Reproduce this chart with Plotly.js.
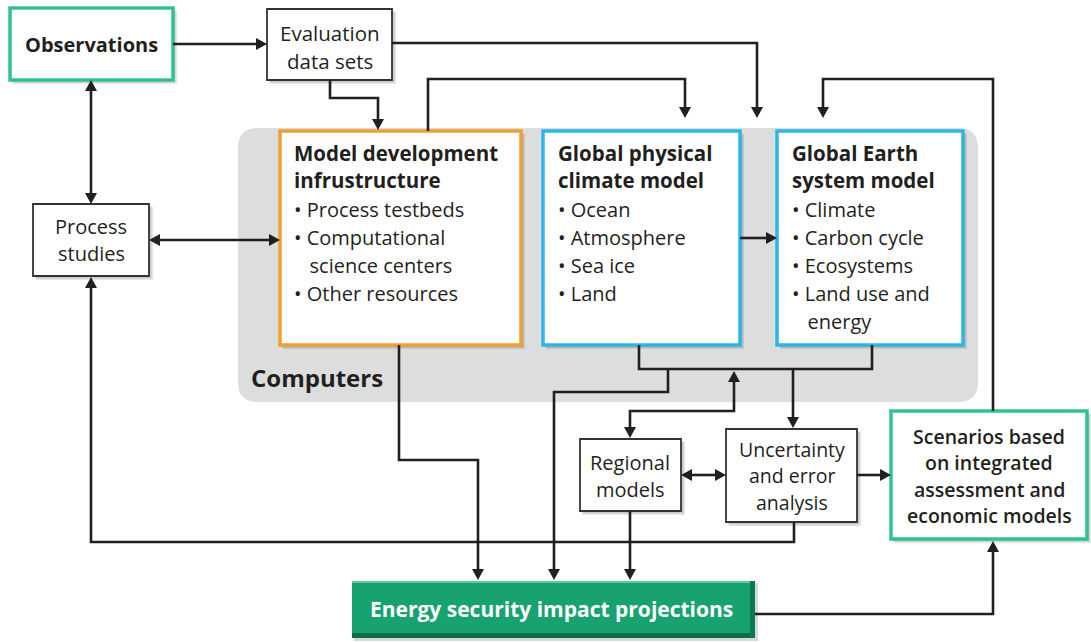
<!DOCTYPE html>
<html>
<head>
<meta charset="utf-8">
<script src="https://cdn.plot.ly/plotly-3.0.1.min.js"></script>
<style>
  html, body { margin: 0; padding: 0; background: #ffffff; }
  #chart { width: 1091px; height: 642px; }
</style>
</head>
<body>
<div id="chart"></div>
<script>
// ---------- Diagram content (text) ----------
const observationsLabel = ['Observations'];
const evaluationLabel = ['Evaluation', 'data sets'];
const processLabel = ['Process', 'studies'];
const modelDevTitle = ['Model development', 'infrustructure'];
const modelDevItems = ['• Process testbeds', '• Computational', '   science centers', '• Other resources'];
const physicalTitle = ['Global physical', 'climate model'];
const physicalItems = ['• Ocean', '• Atmosphere', '• Sea ice', '• Land'];
const earthTitle = ['Global Earth', 'system model'];
const earthItems = ['• Climate', '• Carbon cycle', '• Ecosystems', '• Land use and', '   energy'];
const computersLabel = ['Computers'];
const regionalLabel = ['Regional', 'models'];
const uncertaintyLabel = ['Uncertainty', 'and error', 'analysis'];
const scenariosLabel = ['Scenarios based', 'on integrated', 'assessment and', 'economic models'];
const energyLabel = ['Energy security impact projections'];

// ---------- Geometry / style (pixel space, y downward) ----------
const INK = '#231f20';
const GREEN = '#30c28e';
const ORANGE = '#f0a033';
const BLUE = '#2bb6e6';
const FONT = 'Open Sans, Noto Sans, sans-serif';

const boxes = {
  obs:   {x0: 10,  x1: 173, y0: 8,   y1: 80,  border: GREEN,  w: 3.5},
  eval:  {x0: 267, x1: 392, y0: 9,   y1: 80,  border: '#333', w: 1.8},
  proc:  {x0: 33,  x1: 149, y0: 204, y1: 276, border: '#333', w: 1.8},
  dev:   {x0: 280, x1: 521, y0: 131, y1: 345, border: ORANGE, w: 3.5},
  phys:  {x0: 543, x1: 740, y0: 131, y1: 345, border: BLUE,   w: 3.5},
  earth: {x0: 777, x1: 963, y0: 131, y1: 345, border: BLUE,   w: 3.5},
  reg:   {x0: 580, x1: 681, y0: 439, y1: 511, border: '#333', w: 1.8},
  unc:   {x0: 726, x1: 857, y0: 429, y1: 522, border: '#333', w: 1.8},
  scen:  {x0: 891, x1: 1087, y0: 411, y1: 539, border: GREEN, w: 3.5}
};
const energyBox = {x0: 352, x1: 755, y0: 581, y1: 638};
const grayBox = {x0: 238, x1: 978, y0: 128, y1: 402, r: 20};

// connectors: list of points, arrow at start / end
const connectors = [
  {pts: [[173,44],[267,44]], end: true},
  {pts: [[392,43],[757,43],[757,118]], end: true},
  {pts: [[330,80],[330,98],[378,98],[378,130]], end: true},
  {pts: [[428,131],[428,79],[685,79],[685,118]], end: true},
  {pts: [[993,411],[993,79],[823,79],[823,118]], end: true},
  {pts: [[91,80],[91,204]], start: true, end: true},
  {pts: [[149,240],[280,240]], start: true, end: true},
  {pts: [[740,238],[777,238]], end: true},
  {pts: [[639,345],[639,369],[872,369],[872,345]]},
  {pts: [[668,369],[668,392],[554,392],[554,580]], end: true},
  {pts: [[793,369],[793,428]], end: true},
  {pts: [[630,438],[630,411],[734,411],[734,371]], start: true, end: true},
  {pts: [[681,475],[726,475]], start: true, end: true},
  {pts: [[857,475],[891,475]], end: true},
  {pts: [[630,511],[630,580]], end: true},
  {pts: [[794,522],[794,542],[91,542],[91,277]], end: true},
  {pts: [[399,345],[399,460],[478,460],[478,580]], end: true},
  {pts: [[755,614],[993,614],[993,541]], end: true}
];

// ---------- Build shapes ----------
const shapes = [];
function rect(x0, x1, y0, y1, fill, lineColor, lineWidth) {
  shapes.push({type: 'rect', xref: 'x', yref: 'y', x0, x1, y0, y1,
    fillcolor: fill, line: {color: lineColor || 'rgba(0,0,0,0)', width: lineWidth || 0}});
}
// gray "Computers" panel with rounded corners
(function () {
  const g = grayBox, r = g.r;
  const p = `M${g.x0 + r},${g.y0} L${g.x1 - r},${g.y0} Q${g.x1},${g.y0} ${g.x1},${g.y0 + r} ` +
    `L${g.x1},${g.y1 - r} Q${g.x1},${g.y1} ${g.x1 - r},${g.y1} L${g.x0 + r},${g.y1} ` +
    `Q${g.x0},${g.y1} ${g.x0},${g.y1 - r} L${g.x0},${g.y0 + r} Q${g.x0},${g.y0} ${g.x0 + r},${g.y0} Z`;
  shapes.push({type: 'path', xref: 'x', yref: 'y', path: p, fillcolor: '#dcdddd', line: {width: 0}});
})();
// soft shadows
Object.values(boxes).forEach(b => {
  rect(b.x0 + 3, b.x1 + 4, b.y0 + 3, b.y1 + 4, 'rgba(0,0,0,0.10)');
  rect(b.x0 + 2, b.x1 + 2.5, b.y0 + 2, b.y1 + 2.5, 'rgba(0,0,0,0.12)');
});
rect(energyBox.x0 + 2, energyBox.x1 + 3, energyBox.y0 + 2, energyBox.y1 + 3, 'rgba(0,0,0,0.15)');
// boxes
Object.values(boxes).forEach(b => rect(b.x0, b.x1, b.y0, b.y1, '#ffffff', b.border, b.w));
// energy box (green with darker bevel)
rect(energyBox.x0, energyBox.x1, energyBox.y0, energyBox.y1, '#17a26f');
rect(energyBox.x0, energyBox.x1, energyBox.y1 - 5, energyBox.y1, '#0b6f48');
rect(energyBox.x1 - 5, energyBox.x1, energyBox.y0, energyBox.y1, '#0c7a50');
rect(energyBox.x0, energyBox.x1 - 5, energyBox.y0, energyBox.y0 + 2, '#5fc79d');

// connectors and arrowheads
const AL = 11, AW = 6;
function headAndTrim(tip, from) {
  const dx = tip[0] - from[0], dy = tip[1] - from[1];
  const L = Math.hypot(dx, dy), ux = dx / L, uy = dy / L;
  const bx = tip[0] - ux * AL, by = tip[1] - uy * AL;
  const p1 = [bx - uy * AW, by + ux * AW], p2 = [bx + uy * AW, by - ux * AW];
  shapes.push({type: 'path', xref: 'x', yref: 'y',
    path: `M${tip[0]},${tip[1]} L${p1[0]},${p1[1]} L${p2[0]},${p2[1]} Z`,
    fillcolor: INK, line: {width: 0}});
  return [bx + ux * 1, by + uy * 1];
}
connectors.forEach(c => {
  const pts = c.pts.map(p => p.slice());
  if (c.end) pts[pts.length - 1] = headAndTrim(pts[pts.length - 1], pts[pts.length - 2]);
  if (c.start) pts[0] = headAndTrim(pts[0], pts[1]);
  const path = pts.map((p, i) => (i ? 'L' : 'M') + p[0] + ',' + p[1]).join(' ');
  shapes.push({type: 'path', xref: 'x', yref: 'y', path, line: {color: INK, width: 2.6}});
});

// ---------- Text ----------
const annotations = [];
function txt(t, x, y, opts) {
  opts = opts || {};
  annotations.push({
    text: opts.bold ? '<b>' + t + '</b>' : t,
    x, y, xref: 'x', yref: 'y', showarrow: false,
    xanchor: opts.anchor || 'center', yanchor: 'middle',
    font: Object.assign({family: FONT, size: opts.size || 20, color: opts.color || INK},
      opts.weight ? {weight: opts.weight} : {})
  });
}
function stack(lines, x, yStart, step, opts) {
  lines.forEach((l, i) => txt(l, x, yStart + i * step, opts));
}

stack(observationsLabel, 91, 44, 0, {bold: true, size: 20});
stack(evaluationLabel, 330, 33, 28, {size: 20.5});
stack(processLabel, 91, 226, 27, {size: 20});
stack(modelDevTitle, 292, 153, 27, {bold: true, size: 20.5, anchor: 'left'});
stack(modelDevItems, 292, 209, 28, {size: 20, anchor: 'left'});
stack(physicalTitle, 556, 153, 27, {bold: true, size: 20.5, anchor: 'left'});
stack(physicalItems, 556, 209, 28.3, {size: 20, anchor: 'left'});
stack(earthTitle, 790, 153, 27, {bold: true, size: 20.5, anchor: 'left'});
stack(earthItems, 790, 209, 28, {size: 20, anchor: 'left'});
stack(computersLabel, 249, 377, 0, {bold: true, size: 24, anchor: 'left'});
stack(regionalLabel, 630, 462, 27, {size: 20});
stack(uncertaintyLabel, 792, 449, 26.5, {size: 19.5});
stack(scenariosLabel, 989, 436, 26.5, {size: 19.5, weight: 600});
stack(energyLabel, 551, 609, 0, {bold: true, size: 21, color: '#ffffff'});

const layout = {
  width: 1091, height: 642,
  margin: {l: 0, r: 0, t: 0, b: 0},
  paper_bgcolor: '#ffffff', plot_bgcolor: '#ffffff',
  xaxis: {range: [0, 1091], visible: false, fixedrange: true},
  yaxis: {range: [642, 0], visible: false, fixedrange: true},
  showlegend: false,
  shapes, annotations
};

Plotly.newPlot('chart', [{x: [], y: [], type: 'scatter', mode: 'markers', hoverinfo: 'skip'}], layout,
  {displayModeBar: false, staticPlot: true});
</script>
</body>
</html>
